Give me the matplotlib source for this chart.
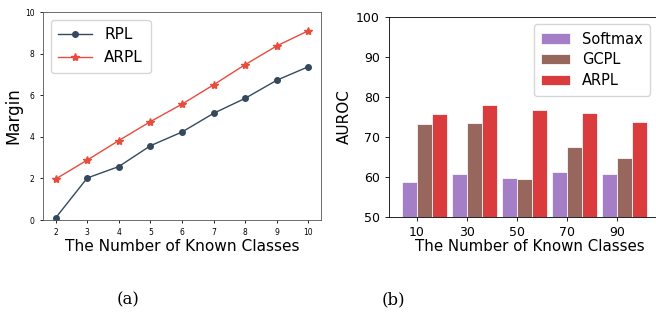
import numpy as np
import matplotlib
matplotlib.use("Agg")
import matplotlib.pyplot as plt

# (a) margin vs number of known classes
n_classes = [2, 3, 4, 5, 6, 7, 8, 9, 10]
rpl_margin = [0.1, 2.02, 2.57, 3.57, 4.23, 5.13, 5.85, 6.72, 7.37]
arpl_margin = [1.97, 2.88, 3.82, 4.73, 5.57, 6.5, 7.47, 8.37, 9.1]

# (b) AUROC vs number of known classes
known = [10, 30, 50, 70, 90]
softmax_auroc = [58.7, 60.7, 59.8, 61.3, 60.7]
gcpl_auroc = [73.2, 73.5, 59.6, 67.5, 64.7]
arpl_auroc = [75.7, 78.0, 76.7, 76.0, 73.8]

W, H = 656, 323
fig = plt.figure(figsize=(W / 100, H / 100), dpi=100)


def box(x0, y0, x1, y1):
    # pixel box (top-left origin) -> figure fraction
    return [x0 / W, 1 - y1 / H, (x1 - x0) / W, (y1 - y0) / H]


# ---- left panel ----
ax1 = fig.add_axes(box(43, 12, 321, 220))
ax1.plot(n_classes, rpl_margin, color="#34495e", marker="o", markersize=4,
         linewidth=1.0, label="RPL")
ax1.plot(n_classes, arpl_margin, color="#e74c3c", marker="*", markersize=6,
         linewidth=1.0, label="ARPL")
ax1.set_ylim(0, 10)
ax1.set_xticks(n_classes)
ax1.tick_params(labelsize=5.5, length=2.5, width=0.6)
ax1.set_ylabel("Margin", fontsize=12, labelpad=2)
ax1.set_xlabel("The Number of Known Classes", fontsize=11.1, labelpad=1)
ax1.legend(loc="upper left", fontsize=11, handlelength=2.2, borderpad=0.5,
           labelspacing=0.5)
for s in ax1.spines.values():
    s.set_linewidth(0.6)
    s.set_color("#555555")

# ---- right panel (right spine falls outside the image, as in the source) ----
ax2 = fig.add_axes(box(389, 17, 670, 217))
x = np.array(known)
w = 6
ax2.bar(x - 3, softmax_auroc, w, color="#9467bd", alpha=0.85,
        edgecolor="white", linewidth=0.6, label="Softmax")
ax2.bar(x + 3, gcpl_auroc, w, color="#8c564b", alpha=0.9,
        edgecolor="white", linewidth=0.6, label="GCPL")
ax2.bar(x + 9, arpl_auroc, w, color="#d62728", alpha=0.9,
        edgecolor="white", linewidth=0.6, label="ARPL")
ax2.set_ylim(50, 100)
ax2.set_xlim(-1.2, 111.2)
ax2.set_xticks(known)
ax2.tick_params(labelsize=9, length=3, width=0.6)
ax2.set_ylabel("AUROC", fontsize=11, labelpad=3)
ax2.set_xlabel("The Number of Known Classes", fontsize=10.8, labelpad=0)
ax2.legend(loc="upper right", bbox_to_anchor=(0.955, 1.0), fontsize=10.5,
           handlelength=2.0, borderpad=0.5, labelspacing=0.4)
for s in ax2.spines.values():
    s.set_linewidth(0.6)

fig.text(128 / W, 1 - 300 / H, "(a)", family="DejaVu Serif", fontsize=12,
         ha="center", va="center")
fig.text(393 / W, 1 - 300 / H, "(b)", family="DejaVu Serif", fontsize=12,
         ha="center", va="center")

fig.savefig("out.png", dpi=100)
